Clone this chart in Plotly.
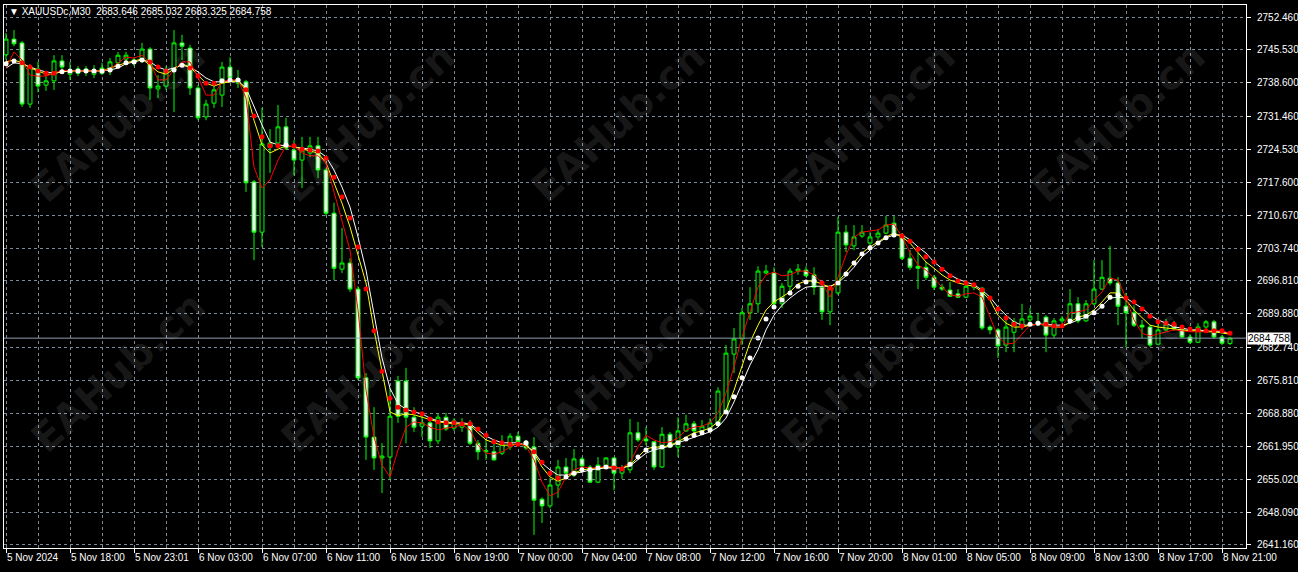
"""
XAUUSDc M30 - velas con medias móviles (estilo MetaTrader)
"""
import plotly.graph_objects as go

# ---- datos (una vela cada 30 min) ----
opens = [
    2744.5, 2747.8, 2747.0, 2734.1, 2741.5, 2738.1, 2739.0, 2743.2, 2740.4, 2740.6,
    2741.5, 2740.4, 2740.6, 2741.1, 2742.8, 2743.6, 2743.4, 2743.2, 2745.7, 2737.3,
    2737.9, 2741.3, 2747.0, 2745.9, 2737.5, 2731.4, 2734.3, 2736.0, 2741.9, 2738.5,
    2738.8, 2717.7, 2707.1, 2725.0, 2725.9, 2729.3, 2724.4, 2722.3, 2723.8, 2725.3,
    2720.2, 2711.1, 2699.3, 2700.6, 2695.1, 2676.4, 2663.9, 2659.5, 2659.7, 2675.7,
    2675.7, 2668.1, 2666.2, 2666.9, 2663.1, 2668.1, 2665.8, 2666.0, 2666.9, 2662.6,
    2660.8, 2660.8, 2660.5, 2661.8, 2664.1, 2662.9, 2661.8, 2650.8, 2649.4, 2653.8,
    2657.6, 2655.9, 2659.3, 2657.6, 2654.4, 2657.8, 2659.5, 2656.3, 2657.0, 2664.8,
    2663.5, 2662.9, 2657.6, 2664.5, 2661.8, 2665.2, 2666.7, 2665.2, 2665.4, 2666.5,
    2669.2, 2681.4, 2684.6, 2690.1, 2692.0, 2698.5, 2698.5, 2692.0, 2695.7, 2698.9,
    2699.1, 2698.1, 2695.5, 2690.3, 2694.3, 2707.1, 2704.2, 2706.3, 2704.8, 2706.1,
    2706.9, 2709.0, 2706.5, 2701.6, 2699.9, 2699.7, 2697.6, 2695.5, 2694.9, 2694.1,
    2693.4, 2695.5, 2695.3, 2687.1, 2686.5, 2683.3, 2686.0, 2687.1, 2688.6, 2688.2,
    2689.2, 2685.4, 2688.4, 2688.6, 2692.0, 2688.4, 2692.0, 2695.1, 2697.4, 2696.4,
    2691.5, 2690.1, 2687.5, 2687.1, 2683.5, 2686.5, 2687.7, 2686.7, 2685.0, 2683.9,
    2687.1, 2688.2, 2685.0, 2683.646,
]
highs = [
    2749.1, 2749.7, 2747.4, 2742.5, 2743.0, 2740.2, 2744.4, 2744.4, 2743.0, 2742.1,
    2742.1, 2742.3, 2742.8, 2743.8, 2745.1, 2745.1, 2744.0, 2747.0, 2746.1, 2740.2,
    2742.1, 2749.7, 2748.7, 2746.6, 2738.1, 2735.0, 2738.1, 2743.0, 2744.0, 2741.3,
    2739.2, 2718.1, 2733.3, 2728.8, 2733.9, 2731.2, 2726.5, 2727.2, 2727.2, 2727.2,
    2720.6, 2713.3, 2708.0, 2701.6, 2695.7, 2677.4, 2670.2, 2662.6, 2674.2, 2676.8,
    2678.5, 2670.2, 2669.0, 2668.1, 2668.8, 2669.0, 2667.9, 2667.9, 2667.5, 2663.3,
    2663.3, 2662.6, 2664.3, 2664.7, 2665.0, 2663.3, 2663.9, 2651.2, 2655.3, 2659.1,
    2659.5, 2661.4, 2659.7, 2658.0, 2659.7, 2659.7, 2659.7, 2658.0, 2667.7, 2667.1,
    2666.0, 2663.1, 2666.0, 2665.0, 2668.1, 2668.6, 2667.3, 2667.5, 2667.9, 2674.4,
    2683.3, 2686.9, 2691.1, 2695.5, 2699.9, 2700.2, 2699.7, 2696.4, 2699.5, 2700.4,
    2699.9, 2699.7, 2695.9, 2695.9, 2710.3, 2708.6, 2708.6, 2708.6, 2707.1, 2707.8,
    2710.5, 2710.5, 2706.9, 2703.3, 2702.7, 2700.8, 2698.1, 2696.2, 2696.6, 2695.1,
    2696.6, 2696.4, 2695.5, 2687.5, 2686.9, 2689.6, 2689.0, 2692.0, 2691.1, 2690.1,
    2689.6, 2689.0, 2689.4, 2695.1, 2693.4, 2692.8, 2701.2, 2701.2, 2704.2, 2697.6,
    2694.3, 2691.7, 2688.6, 2687.5, 2688.2, 2688.8, 2688.4, 2687.3, 2685.6, 2687.9,
    2688.6, 2688.6, 2685.4, 2685.032,
]
lows = [
    2743.4, 2746.3, 2733.5, 2733.3, 2736.6, 2736.9, 2737.1, 2740.9, 2739.2, 2740.0,
    2740.0, 2739.6, 2740.2, 2740.2, 2741.7, 2742.3, 2742.1, 2742.8, 2735.0, 2735.4,
    2737.1, 2732.4, 2743.4, 2736.0, 2730.7, 2730.7, 2733.3, 2733.5, 2739.2, 2737.5,
    2715.6, 2701.2, 2704.0, 2719.6, 2725.5, 2724.4, 2719.1, 2716.4, 2722.9, 2718.5,
    2710.5, 2697.0, 2698.5, 2694.5, 2675.9, 2659.1, 2657.0, 2652.1, 2654.9, 2666.9,
    2662.6, 2665.0, 2663.9, 2661.6, 2662.4, 2665.2, 2665.2, 2665.0, 2662.2, 2659.1,
    2659.1, 2658.9, 2660.1, 2661.2, 2662.4, 2661.2, 2643.3, 2645.8, 2648.9, 2651.1,
    2655.9, 2655.5, 2656.5, 2654.2, 2654.2, 2657.6, 2652.7, 2655.1, 2656.3, 2662.9,
    2662.2, 2657.0, 2657.4, 2661.6, 2659.7, 2665.0, 2664.7, 2664.7, 2665.0, 2666.0,
    2668.8, 2677.4, 2683.3, 2688.6, 2690.1, 2698.3, 2691.1, 2691.1, 2694.3, 2698.1,
    2697.6, 2693.9, 2688.6, 2687.5, 2693.9, 2702.9, 2703.3, 2705.9, 2703.3, 2705.5,
    2706.7, 2706.3, 2701.2, 2699.1, 2695.1, 2697.0, 2694.9, 2694.7, 2693.4, 2693.2,
    2693.2, 2694.9, 2686.5, 2685.6, 2680.6, 2681.8, 2681.8, 2686.5, 2688.2, 2687.3,
    2681.8, 2684.8, 2687.9, 2688.2, 2687.9, 2688.2, 2691.7, 2694.9, 2695.9, 2687.5,
    2682.9, 2687.1, 2684.8, 2682.9, 2683.3, 2686.3, 2686.3, 2684.8, 2683.5, 2683.7,
    2686.7, 2684.6, 2683.3, 2683.325,
]
closes = [
    2747.8, 2746.8, 2734.1, 2741.9, 2737.9, 2739.0, 2743.2, 2741.9, 2741.3, 2741.5,
    2740.9, 2741.3, 2741.7, 2743.0, 2744.4, 2744.4, 2742.8, 2745.7, 2737.5, 2737.9,
    2741.3, 2747.0, 2746.3, 2737.5, 2731.2, 2734.1, 2737.1, 2741.9, 2739.6, 2739.4,
    2717.5, 2707.1, 2725.7, 2725.9, 2729.3, 2724.8, 2722.3, 2724.4, 2725.3, 2720.2,
    2711.1, 2699.5, 2700.6, 2695.1, 2676.4, 2663.9, 2659.5, 2659.9, 2668.3, 2668.3,
    2668.1, 2666.0, 2666.9, 2663.1, 2668.1, 2665.6, 2667.3, 2666.9, 2662.6, 2660.8,
    2661.0, 2659.1, 2662.4, 2664.1, 2662.9, 2661.6, 2650.6, 2649.4, 2653.8, 2657.6,
    2656.3, 2659.3, 2657.8, 2654.4, 2658.0, 2659.5, 2656.3, 2657.4, 2664.8, 2663.3,
    2663.1, 2657.6, 2664.5, 2661.8, 2665.2, 2666.7, 2665.2, 2666.2, 2666.9, 2673.6,
    2681.6, 2684.6, 2690.1, 2692.0, 2698.9, 2698.9, 2692.0, 2695.7, 2698.9, 2699.3,
    2697.9, 2695.5, 2690.3, 2695.5, 2707.1, 2704.4, 2706.1, 2707.1, 2706.1, 2706.9,
    2708.6, 2706.5, 2701.6, 2699.7, 2699.5, 2697.6, 2695.5, 2695.1, 2693.6, 2693.4,
    2695.7, 2695.9, 2686.9, 2686.5, 2683.1, 2687.1, 2688.2, 2688.8, 2689.4, 2687.7,
    2685.4, 2688.4, 2688.8, 2692.0, 2688.4, 2692.0, 2695.1, 2697.6, 2696.4, 2691.5,
    2690.1, 2687.5, 2687.1, 2683.3, 2686.5, 2687.7, 2686.7, 2685.0, 2683.9, 2687.1,
    2688.2, 2685.0, 2683.7, 2684.758,
]

# medias móviles tal como se ven en el gráfico
ma_red = [
    2741.7, 2745.1, 2743.4, 2740.2, 2740.0, 2740.0, 2740.6, 2741.3, 2741.1, 2741.1,
    2741.1, 2741.1, 2741.1, 2741.5, 2742.8, 2744.0, 2743.8, 2744.4, 2742.8, 2739.2,
    2739.2, 2741.3, 2743.0, 2743.0, 2739.8, 2736.0, 2736.0, 2738.8, 2739.2, 2739.2,
    2735.4, 2720.8, 2716.4, 2718.1, 2722.3, 2725.3, 2725.1, 2723.8, 2723.2, 2723.2,
    2721.7, 2715.4, 2709.7, 2703.3, 2690.7, 2673.8, 2663.9, 2658.0, 2655.5, 2661.2,
    2666.0, 2667.1, 2666.9, 2666.0, 2665.4, 2665.8, 2666.0, 2666.5, 2665.4, 2662.2,
    2660.5, 2660.3, 2660.8, 2661.8, 2662.7, 2662.0, 2659.1, 2654.4, 2651.5, 2652.3,
    2655.5, 2657.0, 2657.6, 2657.4, 2657.4, 2657.8, 2657.6, 2657.4, 2658.6, 2661.8,
    2664.3, 2663.3, 2662.7, 2662.9, 2663.7, 2665.4, 2666.0, 2666.2, 2666.9, 2669.0,
    2673.2, 2678.7, 2685.0, 2690.3, 2695.5, 2698.1, 2698.7, 2697.9, 2698.1, 2698.9,
    2698.9, 2698.1, 2696.4, 2693.4, 2697.6, 2702.3, 2706.1, 2707.1, 2707.3, 2707.6,
    2708.6, 2708.8, 2706.1, 2702.9, 2700.2, 2699.1, 2697.4, 2695.5, 2693.9, 2693.6,
    2694.1, 2694.3, 2693.4, 2689.0, 2685.0, 2683.5, 2683.7, 2685.6, 2687.5, 2687.7,
    2687.5, 2687.1, 2687.1, 2690.1, 2690.3, 2690.7, 2692.8, 2694.5, 2697.4, 2697.0,
    2693.2, 2688.6, 2685.8, 2685.2, 2685.6, 2686.1, 2686.5, 2686.3, 2686.1, 2686.1,
    2686.1, 2686.5, 2686.3, 2685.8,
]
ma_yellow = [
    2743.0, 2743.4, 2742.8, 2741.7, 2741.1, 2740.4, 2740.4, 2741.1, 2741.1, 2741.1,
    2741.1, 2741.1, 2741.1, 2741.7, 2742.3, 2742.8, 2743.2, 2743.6, 2742.3, 2740.9,
    2740.4, 2741.5, 2742.6, 2741.9, 2740.2, 2738.5, 2737.9, 2738.5, 2738.8, 2739.0,
    2737.1, 2730.7, 2725.5, 2723.8, 2724.6, 2725.3, 2725.1, 2724.6, 2724.2, 2723.8,
    2721.7, 2717.5, 2713.2, 2708.2, 2702.3, 2696.4, 2686.5, 2678.0, 2669.2, 2668.4,
    2668.8, 2668.6, 2668.1, 2667.7, 2667.1, 2666.9, 2666.7, 2666.7, 2666.5, 2664.8,
    2663.3, 2662.7, 2662.2, 2662.2, 2662.4, 2662.2, 2660.5, 2657.6, 2655.5, 2654.6,
    2655.3, 2656.3, 2657.0, 2657.2, 2657.4, 2657.6, 2657.6, 2657.4, 2658.0, 2659.7,
    2661.4, 2661.8, 2661.8, 2662.2, 2662.9, 2663.9, 2664.8, 2665.2, 2665.8, 2667.1,
    2669.6, 2673.8, 2679.1, 2683.9, 2687.5, 2690.7, 2692.4, 2693.4, 2694.5, 2696.2,
    2696.8, 2696.8, 2696.2, 2695.5, 2696.6, 2698.7, 2700.8, 2702.7, 2704.0, 2705.0,
    2706.1, 2706.9, 2706.1, 2704.8, 2702.7, 2700.8, 2699.5, 2698.1, 2697.0, 2696.4,
    2696.0, 2695.7, 2694.5, 2692.8, 2689.6, 2687.9, 2687.1, 2687.1, 2687.5, 2687.7,
    2687.5, 2687.1, 2687.1, 2688.2, 2689.2, 2689.6, 2690.7, 2692.4, 2694.3, 2694.3,
    2692.8, 2690.7, 2689.0, 2687.5, 2687.1, 2686.9, 2686.7, 2686.5, 2686.3, 2686.3,
    2686.1, 2686.1, 2685.8, 2685.6,
]
ma_white = [
    2741.7, 2742.8, 2742.6, 2741.9, 2741.3, 2740.9, 2740.6, 2740.9, 2741.1, 2741.1,
    2741.1, 2741.1, 2741.1, 2741.3, 2741.7, 2742.6, 2743.0, 2743.4, 2743.0, 2741.9,
    2741.3, 2741.7, 2742.3, 2741.9, 2740.9, 2739.6, 2738.8, 2738.8, 2739.0, 2739.0,
    2737.5, 2733.5, 2729.7, 2726.1, 2725.5, 2725.3, 2725.1, 2724.8, 2724.6, 2724.2,
    2723.0, 2720.2, 2716.6, 2712.4, 2706.1, 2699.1, 2689.6, 2680.6, 2674.2, 2670.9,
    2669.8, 2669.2, 2668.8, 2667.9, 2667.3, 2667.1, 2666.9, 2666.9, 2666.7, 2665.4,
    2664.1, 2663.3, 2662.7, 2662.7, 2662.7, 2662.2, 2660.8, 2658.4, 2657.0, 2655.9,
    2655.9, 2656.3, 2656.5, 2657.0, 2657.2, 2657.4, 2657.4, 2657.4, 2657.8, 2659.1,
    2660.5, 2661.2, 2661.6, 2662.0, 2662.7, 2663.3, 2663.9, 2664.5, 2665.0, 2666.0,
    2667.9, 2671.3, 2675.3, 2679.1, 2682.3, 2686.5, 2689.6, 2691.7, 2693.2, 2694.5,
    2695.5, 2695.7, 2695.7, 2695.7, 2696.4, 2697.9, 2699.7, 2701.9, 2703.3, 2704.8,
    2705.9, 2706.5, 2706.5, 2705.5, 2704.0, 2702.7, 2700.8, 2699.5, 2698.1, 2697.2,
    2696.6, 2696.0, 2694.9, 2693.4, 2691.3, 2689.6, 2688.2, 2687.5, 2687.5, 2687.7,
    2687.7, 2687.5, 2687.5, 2687.9, 2688.6, 2689.2, 2690.1, 2691.5, 2693.2, 2693.4,
    2693.2, 2692.2, 2691.1, 2689.6, 2688.6, 2687.9, 2687.1, 2686.9, 2686.5, 2686.5,
    2686.3, 2686.1, 2686.1, 2685.8,
]
# indicador de puntos (rojo = baja, blanco = sube)
trend_dots = [
    2742.6, 2743.2, 2742.8, 2741.9, 2741.1, 2740.6, 2740.6, 2740.9, 2741.1, 2741.1,
    2741.1, 2741.1, 2741.1, 2741.3, 2742.1, 2742.8, 2743.0, 2743.4, 2743.0, 2741.9,
    2741.1, 2741.3, 2742.3, 2741.7, 2740.0, 2738.5, 2738.5, 2739.0, 2739.2, 2739.2,
    2737.1, 2731.6, 2727.2, 2725.3, 2725.3, 2725.5, 2725.3, 2724.6, 2724.4, 2724.2,
    2722.7, 2718.7, 2714.5, 2710.1, 2704.0, 2695.1, 2686.3, 2677.8, 2672.1, 2670.2,
    2669.6, 2669.2, 2668.8, 2667.7, 2667.1, 2666.9, 2666.9, 2666.7, 2666.7, 2665.6,
    2664.3, 2662.9, 2662.7, 2662.4, 2662.4, 2662.7, 2660.8, 2658.6, 2656.3, 2655.3,
    2655.5, 2656.3, 2657.0, 2657.0, 2657.4, 2657.6, 2657.4, 2657.2, 2658.2, 2659.7,
    2661.2, 2661.6, 2661.8, 2662.2, 2662.7, 2663.5, 2664.3, 2664.8, 2665.4, 2666.7,
    2669.2, 2672.4, 2676.4, 2680.6, 2684.8, 2688.8, 2691.3, 2692.8, 2694.3, 2695.7,
    2696.6, 2696.8, 2696.4, 2695.3, 2696.4, 2698.3, 2700.6, 2702.5, 2703.8, 2704.8,
    2705.9, 2706.5, 2706.3, 2705.2, 2703.5, 2701.9, 2700.8, 2699.3, 2697.9, 2696.8,
    2696.4, 2696.0, 2694.9, 2693.2, 2690.9, 2689.0, 2687.7, 2687.3, 2687.7, 2687.9,
    2687.7, 2687.3, 2687.3, 2688.4, 2689.0, 2689.4, 2690.1, 2691.5, 2693.4, 2693.9,
    2693.2, 2692.4, 2690.9, 2689.4, 2688.2, 2687.9, 2687.7, 2687.1, 2686.7, 2686.5,
    2686.3, 2686.3, 2686.3, 2685.8,
]

price_ticks = [2641.16, 2648.09, 2655.02, 2661.95, 2668.88, 2675.81, 2682.74, 2689.88, 2696.81,
               2703.74, 2710.67, 2717.60, 2724.53, 2731.46, 2738.60, 2745.53, 2752.46]
time_labels = ["5 Nov 2024", "5 Nov 18:00", "5 Nov 23:01", "6 Nov 03:00", "6 Nov 07:00",
               "6 Nov 11:00", "6 Nov 15:00", "6 Nov 19:00", "7 Nov 00:00", "7 Nov 04:00",
               "7 Nov 08:00", "7 Nov 12:00", "7 Nov 16:00", "7 Nov 20:00", "8 Nov 01:00",
               "8 Nov 05:00", "8 Nov 09:00", "8 Nov 13:00", "8 Nov 17:00", "8 Nov 21:00"]
symbol = "XAUUSDc,M30"
last_price = closes[-1]

GRID = "#7d8a98"
FONT = "Liberation Sans"

bars = list(range(len(closes)))

# color de cada punto según la dirección del indicador
dot_colors = []
prev_col = "#FFFFFF"
for i, v in enumerate(trend_dots):
    if i > 0 and v < trend_dots[i - 1]:
        prev_col = "#FF0000"
    elif i > 0 and v > trend_dots[i - 1]:
        prev_col = "#FFFFFF"
    dot_colors.append(prev_col)

fig = go.Figure()
fig.add_trace(go.Candlestick(
    x=bars, open=opens, high=highs, low=lows, close=closes,
    increasing=dict(line=dict(color="#00FF00", width=1), fillcolor="#000000"),
    decreasing=dict(line=dict(color="#00FF00", width=1), fillcolor="#FFFFFF"),
    whiskerwidth=0, showlegend=False, hoverinfo="skip",
))
for vals, col in [(ma_white, "#FFFFFF"), (ma_yellow, "#FFFF00"), (ma_red, "#FF0000")]:
    fig.add_trace(go.Scatter(
        x=bars, y=vals, mode="lines", line=dict(color=col, width=1),
        showlegend=False, hoverinfo="skip",
    ))
fig.add_trace(go.Scatter(
    x=bars, y=trend_dots, mode="markers",
    marker=dict(color=dot_colors, size=5, symbol="circle", line=dict(width=0)),
    showlegend=False, hoverinfo="skip",
))

# línea del precio actual
fig.add_shape(type="line", xref="paper", x0=0, x1=1, yref="y", y0=last_price, y1=last_price,
              line=dict(color="#8f9eae", width=1))

# marcas de agua
for cx in [118, 368, 618, 868, 1118]:
    for cy in [122, 372]:
        fig.add_annotation(
            text="<b>EAHub.cn</b>", xref="paper", yref="paper",
            x=(cx - 4) / 1242, y=1 - (cy - 5) / 543, xanchor="center", yanchor="middle",
            showarrow=False, textangle=-42,
            font=dict(family="DejaVu Sans", size=40, color="rgba(255,255,255,0.09)"),
        )

fig.add_annotation(
    text=f"▼ {symbol}  {opens[-1]:.3f} {highs[-1]:.3f} {lows[-1]:.3f} {closes[-1]:.3f}",
    xref="paper", yref="paper", x=0, y=1, xanchor="left", yanchor="top",
    xshift=3, yshift=1, showarrow=False, font=dict(family=FONT, size=10, color="white"),
)
fig.add_annotation(
    text=f"{last_price:.3f}", xref="paper", yref="y", x=1, y=last_price,
    xanchor="left", xshift=1, showarrow=False, bgcolor="white", borderpad=0,
    font=dict(family=FONT, size=10, color="black"),
)

fig.update_layout(
    width=1298, height=572,
    margin=dict(l=4, r=52, t=5, b=24, autoexpand=False),
    paper_bgcolor="black", plot_bgcolor="black",
    font=dict(family=FONT, size=10, color="white"),
    xaxis=dict(
        range=[-0.25, 155], rangeslider=dict(visible=False), automargin=False,
        tickmode="array", tickvals=bars[::8], ticktext=time_labels,
        ticks="outside", ticklen=4, tickcolor="white", ticklabelposition="outside right",
        showline=True, linecolor="white", linewidth=1, mirror=True,
        showgrid=True, gridcolor=GRID, griddash="3px,3px", gridwidth=1,
        minor=dict(tickmode="linear", tick0=0, dtick=4, showgrid=True,
                   gridcolor=GRID, griddash="3px,3px", ticks=""),
        zeroline=False, fixedrange=True,
    ),
    yaxis=dict(
        range=[2640.52, 2754.99], side="right", automargin=False,
        tickmode="array", tickvals=price_ticks, ticktext=[f"{v:.3f}" for v in price_ticks],
        ticks="outside", ticklen=4, tickcolor="white", ticklabelstandoff=4,
        showline=True, linecolor="white", linewidth=1, mirror=True,
        showgrid=True, gridcolor=GRID, griddash="3px,3px", gridwidth=1,
        zeroline=False, fixedrange=True,
    ),
)

fig.write_html("out.html", config={"displayModeBar": False},
               post_script="document.body.style.margin='0';document.body.style.overflow='hidden';")
